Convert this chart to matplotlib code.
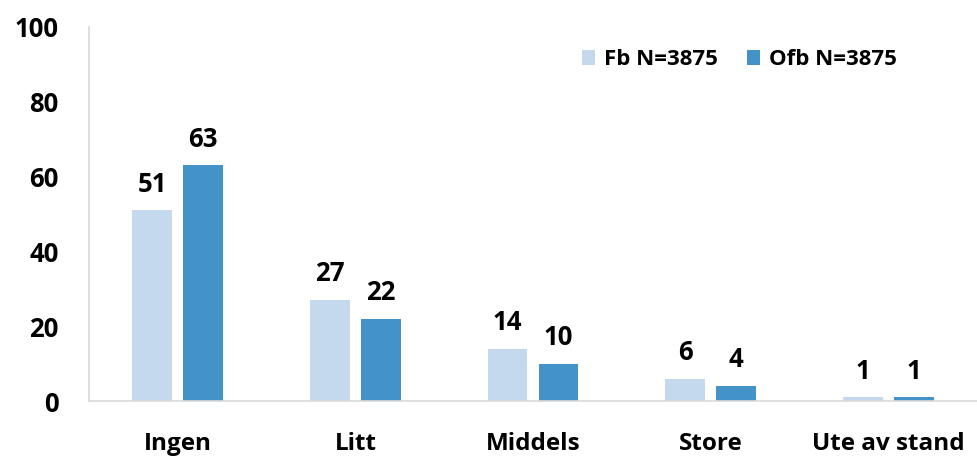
import numpy as np
import matplotlib
matplotlib.use("Agg")
import matplotlib.pyplot as plt

categories = ["Ingen", "Litt", "Middels", "Store", "Ute av stand"]
fb = [51, 27, 14, 6, 1]
ofb = [63, 22, 10, 4, 1]
series_labels = ["Fb N=3875", "Ofb N=3875"]
yticks = [0, 20, 40, 60, 80, 100]

plt.rcParams["font.family"] = ["Open Sans", "DejaVu Sans"]
plt.rcParams["font.weight"] = "bold"

fig = plt.figure(figsize=(9.77, 4.57), dpi=100)
ax = fig.add_axes([0.0911, 0.1225, 0.9089, 0.8185])

x = np.arange(len(categories))
w = 0.225
gap = 0.062
b1 = ax.bar(x - (w + gap) / 2, fb, w, color="#C5D9EE", label=series_labels[0])
b2 = ax.bar(x + (w + gap) / 2, ofb, w, color="#4393C8", label=series_labels[1])

# value labels above each bar
for bars, vals in ((b1, fb), (b2, ofb)):
    for r, v in zip(bars, vals):
        ax.text(r.get_x() + r.get_width() / 2, v + 3.4, str(v),
                ha="center", va="bottom", fontsize=18.5, fontweight="bold")

ax.set_xlim(-0.5, 4.5)
ax.set_ylim(0, 100)
ax.set_yticks(yticks)
ax.set_xticks(x)
ax.set_xticklabels(categories, fontsize=17.5, fontweight="bold")
ax.tick_params(axis="y", labelsize=18.5, length=0, pad=22)
ax.tick_params(axis="x", length=0, pad=22)
for lbl in ax.get_yticklabels():
    lbl.set_fontweight("bold")

for s in ("top", "right"):
    ax.spines[s].set_visible(False)
for s in ("left", "bottom"):
    ax.spines[s].set_color("#D9D9D9")
    ax.spines[s].set_linewidth(1.2)

ax.legend(loc="center right", bbox_to_anchor=(0.91, 0.912), ncol=2, frameon=False,
          borderaxespad=0, borderpad=0, handlelength=0.6, handleheight=0.6,
          columnspacing=1.3, handletextpad=0.4,
          prop={"weight": "bold", "size": 16})

fig.savefig("out.png", dpi=100)
